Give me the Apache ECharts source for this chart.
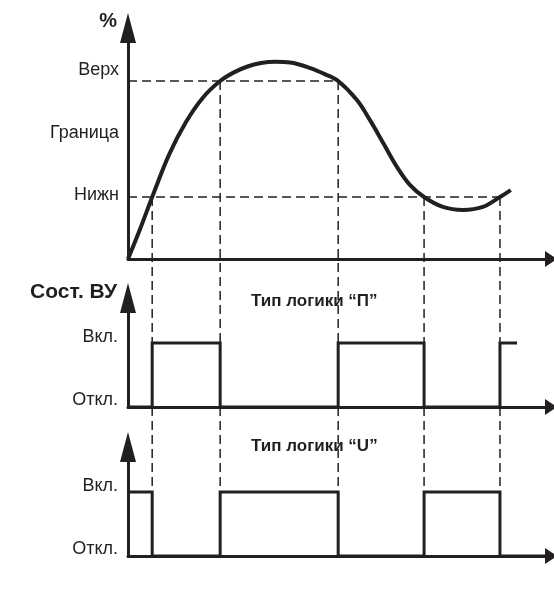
<!DOCTYPE html>
<html><head><meta charset="utf-8">
<script src="https://cdn.jsdelivr.net/npm/echarts@6/dist/echarts.min.js"></script>
<style>html,body{margin:0;padding:0;background:#fff}#c{width:554px;height:592px}</style>
</head><body><div id="c"></div>
<script>
// ---- data ----
const curveT = [0, 2.9, 5.8, 9.8, 13.9, 18.0, 22.1, 25.4, 28.5, 31.9, 35.3, 38.9, 43.7, 47.2, 50.4, 54.9, 58.0, 61.2, 64.5, 67.6, 71.0, 75.5, 80.3, 85.1, 89.2, 91.8];
const curveV = [0, 13.9, 28.7, 48.1, 63.4, 74.8, 82.4, 86.4, 89.0, 90.7, 91.3, 91.0, 88.4, 85.6, 82.4, 73.6, 64.4, 53.7, 42.6, 34.3, 28.7, 24.1, 22.7, 24.1, 28.7, 31.9];
const levelNames = ['Нижн', 'Граница', 'Верх'];
const levelLabelPos = [29.6, 58.1, 87.3];
const lowerLevel = 28.7;
const upperLevel = 82.4;
const crossT = [5.8, 22.1, 50.4, 71.0, 89.2];
const crossLevel = [28.7, 82.4, 82.4, 28.7, 28.7];
const stateNames = ['Откл.', 'Вкл.'];
const stateValues = [0, 1];
const pT = [0, 5.8, 22.1, 50.4, 71.0, 89.2, 93.3];
const pState = [0, 1, 0, 1, 0, 1, 1];
const uT = [0, 5.8, 22.1, 50.4, 71.0, 89.2, 100];
const uState = [1, 0, 1, 0, 1, 0, 0];
const titles = ['Тип логики “П”', 'Тип логики “U”'];
const yName0 = '%';
const yName1 = 'Сост. ВУ';

// ---- chart ----
const ink = '#231f20';
const labelFont = '"Liberation Sans", Arial, sans-serif';
const boldFont = '"Liberation Sans", Arial, sans-serif';
const chart = echarts.init(document.getElementById('c'), null, {renderer: 'canvas'});

const grids = [
  {left: 128, top: 43, width: 417, height: 216},
  {left: 128, top: 313, width: 417, height: 94},
  {left: 128, top: 462, width: 417, height: 94}
];
function xAx(i) {
  return {type: 'value', gridIndex: i, min: 0, max: 100,
    axisLine: {show: true, onZero: false, lineStyle: {color: ink, width: 3},
      symbol: ['none', 'triangle'], symbolSize: [16, 12], symbolOffset: [0, 6]},
    axisTick: {show: false}, axisLabel: {show: false}, splitLine: {show: false}};
}
function nearestLabel(vals, names, v) {
  let bi = 0;
  vals.forEach((x, i) => { if (Math.abs(x - v) < Math.abs(vals[bi] - v)) bi = i; });
  return names[bi];
}
const yLine = {show: true, onZero: false, lineStyle: {color: ink, width: 3},
  symbol: ['none', 'triangle'], symbolSize: [16, 30], symbolOffset: [0, 15]};
const nameStyle0 = {align: 'right', verticalAlign: 'middle', padding: [0, 11, 0, 0],
  fontFamily: boldFont, fontWeight: 'bold', fontSize: 20, color: ink};
const nameStyle1 = Object.assign({}, nameStyle0, {fontSize: 21});
const stateLabel = {customValues: stateValues, margin: 10, fontFamily: labelFont, fontSize: 18, color: ink,
  verticalAlign: 'bottom', lineHeight: 13,
  formatter: v => nearestLabel(stateValues, stateNames, v)};

const yAxes = [
  {type: 'value', gridIndex: 0, min: 0, max: 100, name: yName0, nameLocation: 'end', nameGap: 22,
    nameTextStyle: nameStyle0, axisLine: yLine, axisTick: {show: false}, splitLine: {show: false},
    axisLabel: {customValues: levelLabelPos, margin: 9, fontFamily: labelFont, fontSize: 18, color: ink,
      verticalAlign: 'middle', formatter: v => nearestLabel(levelLabelPos, levelNames, v)}},
  {type: 'value', gridIndex: 1, min: 0, max: 1.47, name: yName1, nameLocation: 'end', nameGap: 21,
    nameTextStyle: nameStyle1, axisLine: yLine, axisTick: {show: false}, splitLine: {show: false},
    axisLabel: stateLabel},
  {type: 'value', gridIndex: 2, min: 0, max: 1.47, axisLine: yLine, axisTick: {show: false},
    splitLine: {show: false}, axisLabel: stateLabel}
];

const dash = {color: ink, width: 1.5, type: [9, 5]};
const base = {
  animation: false,
  title: titles.map((t, i) => ({text: t, left: 251, top: i === 0 ? 293 : 438, padding: 0,
    textStyle: {fontFamily: boldFont, fontWeight: 'bold', fontSize: 17, color: ink}})),
  grid: grids,
  xAxis: [xAx(0), xAx(1), xAx(2)],
  yAxis: yAxes,
  series: []
};
chart.setOption(base);

// dashed guides extend from one panel to the next (mapped through the library's axes)
const pOnInTop = chart.convertFromPixel({yAxisIndex: 0}, chart.convertToPixel({yAxisIndex: 1}, 1));
const uOnInP = chart.convertFromPixel({yAxisIndex: 1}, chart.convertToPixel({yAxisIndex: 2}, 1));

const series = [];
series.push({type: 'line', xAxisIndex: 0, yAxisIndex: 0, symbol: 'none', clip: false, z: 3,
  lineStyle: dash, data: [[0, upperLevel], [crossT[2], upperLevel]]});
series.push({type: 'line', xAxisIndex: 0, yAxisIndex: 0, symbol: 'none', clip: false, z: 3,
  lineStyle: dash, data: [[0, lowerLevel], [crossT[4], lowerLevel]]});
crossT.forEach((t, i) => {
  series.push({type: 'line', xAxisIndex: 0, yAxisIndex: 0, symbol: 'none', clip: false, z: 3,
    lineStyle: dash, data: [[t, crossLevel[i]], [t, pOnInTop]]});
  series.push({type: 'line', xAxisIndex: 1, yAxisIndex: 1, symbol: 'none', clip: false, z: 3,
    lineStyle: dash, data: [[t, 0], [t, uOnInP]]});
});
series.push({type: 'line', xAxisIndex: 0, yAxisIndex: 0, symbol: 'none', smooth: 0.35, clip: false, z: 5,
  lineStyle: {color: ink, width: 4}, data: curveT.map((t, i) => [t, curveV[i]])});
series.push({type: 'line', xAxisIndex: 1, yAxisIndex: 1, symbol: 'none', step: 'end', clip: false, z: 5,
  lineStyle: {color: ink, width: 3, join: 'miter', cap: 'butt'}, data: pT.map((t, i) => [t, pState[i]])});
series.push({type: 'line', xAxisIndex: 2, yAxisIndex: 2, symbol: 'none', step: 'end', clip: false, z: 5,
  lineStyle: {color: ink, width: 3, join: 'miter', cap: 'butt'}, data: uT.map((t, i) => [t, uState[i]])});

chart.setOption({series: series});
</script>
</body></html>
